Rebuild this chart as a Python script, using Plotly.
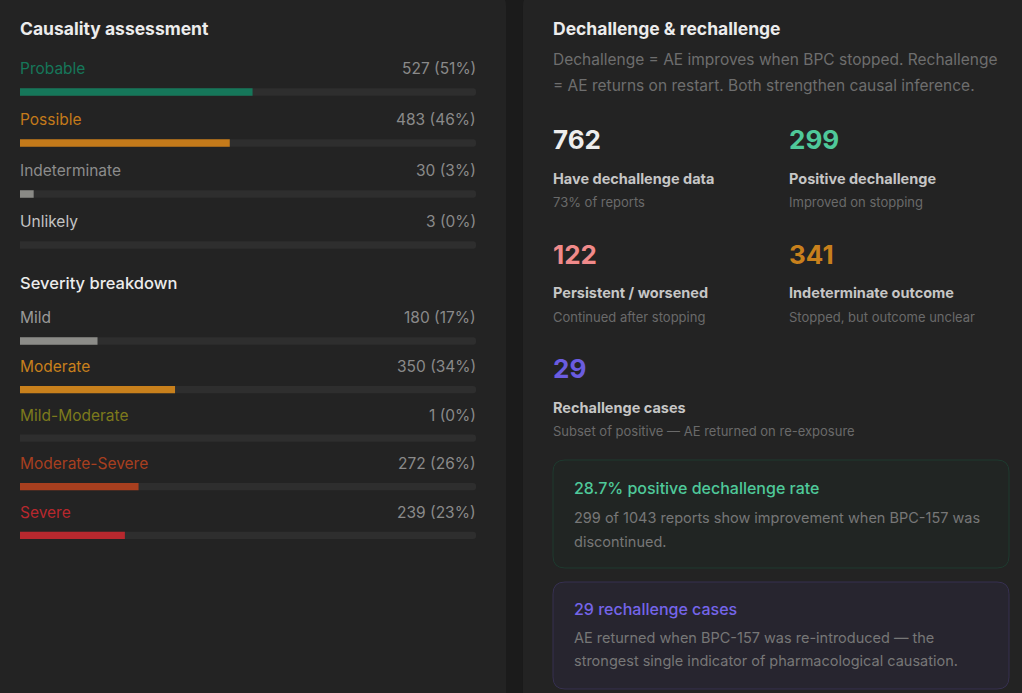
import plotly.graph_objects as go

# canvas size in px
W, H = 1022, 693

# data
total_reports = 1043
causality_labels = ["Probable", "Possible", "Indeterminate", "Unlikely"]
causality_counts = [527, 483, 30, 3]
severity_labels = ["Mild", "Moderate", "Mild-Moderate", "Moderate-Severe", "Severe"]
severity_counts = [180, 350, 1, 272, 239]

stat_values = [762, 299, 122, 341, 29]
stat_titles = ["Have dechallenge data", "Positive dechallenge", "Persistent / worsened",
               "Indeterminate outcome", "Rechallenge cases"]
stat_notes = ["73% of reports", "Improved on stopping", "Continued after stopping",
              "Stopped, but outcome unclear", "Subset of positive \u2014 AE returned on re-exposure"]

# styles
causality_bar_colors = ["#16775a", "#c47a1a", "#8a8a86", "#8a8a86"]
causality_text_colors = ["#16775a", "#c47a1a", "#8c8c8c", "#c4c4c4"]
severity_bar_colors = ["#8c8c88", "#c8801c", "#7d7a1c", "#a83f1f", "#b8282e"]
severity_text_colors = ["#9a9a9a", "#c8801c", "#7d7a1c", "#a83f1f", "#b8282e"]
stat_colors = ["#ededed", "#4fc99a", "#f08a8a", "#c8801c", "#6a5ce0"]
TRACK = "#2e2e2e"
PANEL = "#232323"
FONT = "Inter"


def fx(x):
    return x / W


def fy(y):
    return 1 - y / H


def rounded(x0, y0, x1, y1, r):
    pts = [
        ("M", x0 + r, y0), ("L", x1 - r, y0), ("Q", x1, y0, x1, y0 + r),
        ("L", x1, y1 - r), ("Q", x1, y1, x1 - r, y1), ("L", x0 + r, y1),
        ("Q", x0, y1, x0, y1 - r), ("L", x0, y0 + r), ("Q", x0, y0, x0 + r, y0),
    ]
    out = []
    for p in pts:
        cmd, nums = p[0], p[1:]
        coords = []
        for i in range(0, len(nums), 2):
            coords.append("%.5f,%.5f" % (fx(nums[i]), fy(nums[i + 1])))
        out.append(cmd + " " + " ".join(coords))
    return " ".join(out) + " Z"


def pct(c):
    return round(c / total_reports * 100)


fig = go.Figure()

# progress bars: track + value, one subplot per block
for labels, counts, colors, ax in [
    (causality_labels, causality_counts, causality_bar_colors, ("x", "y")),
    (severity_labels, severity_counts, severity_bar_colors, ("x2", "y2")),
]:
    fig.add_trace(go.Bar(y=labels, x=[100] * len(labels), orientation="h",
                         marker=dict(color=TRACK, cornerradius=4, line=dict(width=0)), width=0.15,
                         xaxis=ax[0], yaxis=ax[1], hoverinfo="skip"))
    fig.add_trace(go.Bar(y=labels, x=[pct(c) for c in counts], orientation="h",
                         marker=dict(color=colors, cornerradius=4, line=dict(width=0)), width=0.15,
                         xaxis=ax[0], yaxis=ax[1], hoverinfo="skip"))

annotations = []


def txt(x, y, s, size, color, xanchor="left", weight=400):
    annotations.append(dict(x=fx(x), y=fy(y), xref="paper", yref="paper", text=s,
                            showarrow=False, xanchor=xanchor, yanchor="middle",
                            xshift=-2 if xanchor == "left" else 2,
                            font=dict(family=FONT, size=size, color=color, weight=weight)))


# labels above bars, anchored on the bar axes
for labels, counts, tcolors, ax in [
    (causality_labels, causality_counts, causality_text_colors, ("x", "y")),
    (severity_labels, severity_counts, severity_text_colors, ("x2", "y2")),
]:
    for lab, c, col in zip(labels, counts, tcolors):
        annotations.append(dict(x=0, y=lab, xref=ax[0], yref=ax[1], text=lab,
                                yshift=23, xshift=-2,
                                showarrow=False, xanchor="left", yanchor="middle",
                                font=dict(family=FONT, size=15.5, color=col)))
        annotations.append(dict(x=100, y=lab, xref=ax[0], yref=ax[1],
                                text="%d (%d%%)" % (c, pct(c)), yshift=23, xshift=2,
                                showarrow=False, xanchor="right", yanchor="middle",
                                font=dict(family=FONT, size=15.5, color="#8a8a8a")))

txt(20, 28, "Causality assessment", 17.5, "#ececec", weight=700)
txt(20, 283, "Severity breakdown", 16.5, "#ececec", weight=500)

# right panel
txt(553, 28, "Dechallenge &amp; rechallenge", 17.5, "#ececec", weight=700)
txt(553, 59, "Dechallenge = AE improves when BPC stopped. Rechallenge", 15.5, "#6e6e6e")
txt(553, 85, "= AE returns on restart. Both strengthen causal inference.", 15.5, "#6e6e6e")

col_x = [553, 789, 553, 789, 553]
row_y = [140, 140, 255, 255, 369]
for v, t, n, c, x, y in zip(stat_values, stat_titles, stat_notes, stat_colors, col_x, row_y):
    txt(x, y, "%d" % v, 26, c, weight=700)
    txt(x, y + 38, t, 14.5, "#c6c6c6", weight=700)
    txt(x, y + 62, n, 13, "#6a6a6a")

pos_rate = stat_values[1] / total_reports * 100
txt(574, 488, "%.1f%% positive dechallenge rate" % pos_rate, 16, "#4fc99a", weight=500)
txt(574, 517, "%d of %d reports show improvement when BPC-157 was" % (stat_values[1], total_reports),
    14.5, "#777777")
txt(574, 541, "discontinued.", 14.5, "#777777")
txt(574, 609, "%d rechallenge cases" % stat_values[4], 16, "#7565ea", weight=500)
txt(574, 637, "AE returned when BPC-157 was re-introduced \u2014 the", 14.5, "#777777")
txt(574, 661, "strongest single indicator of pharmacological causation.", 14.5, "#777777")

shapes = [
    dict(type="path", path=rounded(-20, -6, 506, 720, 12), xref="paper", yref="paper",
         fillcolor=PANEL, line=dict(width=0), layer="below"),
    dict(type="path", path=rounded(523, -6, 1045, 720, 12), xref="paper", yref="paper",
         fillcolor=PANEL, line=dict(width=0), layer="below"),
    dict(type="path", path=rounded(553, 460, 1009, 568, 12), xref="paper", yref="paper",
         fillcolor="#212523", line=dict(width=1, color="#1e3a2f"), layer="below"),
    dict(type="path", path=rounded(553, 582, 1009, 689, 12), xref="paper", yref="paper",
         fillcolor="#27252f", line=dict(width=1, color="#363050"), layer="below"),
]

hidden = dict(visible=False, showgrid=False, zeroline=False, fixedrange=True)
fig.update_layout(
    width=W, height=H, margin=dict(l=0, r=0, t=0, b=0),
    paper_bgcolor="#1b1b1b", plot_bgcolor="rgba(0,0,0,0)",
    barmode="overlay", showlegend=False,
    xaxis=dict(domain=[fx(20), fx(476)], range=[0, 100], **hidden),
    yaxis=dict(domain=[fy(270.5), fy(66.5)], range=[3.5, -0.5], type="category", **hidden),
    xaxis2=dict(domain=[fx(20), fx(476)], range=[0, 100], anchor="y2", **hidden),
    yaxis2=dict(domain=[fy(559.6), fy(316.7)], range=[4.5, -0.5], type="category", anchor="x2",
                **hidden),
    annotations=annotations, shapes=shapes,
)

fig.write_html("out.html", config={"displayModeBar": False},
               post_script="document.body.style.margin='0';document.body.style.overflow='hidden';")
